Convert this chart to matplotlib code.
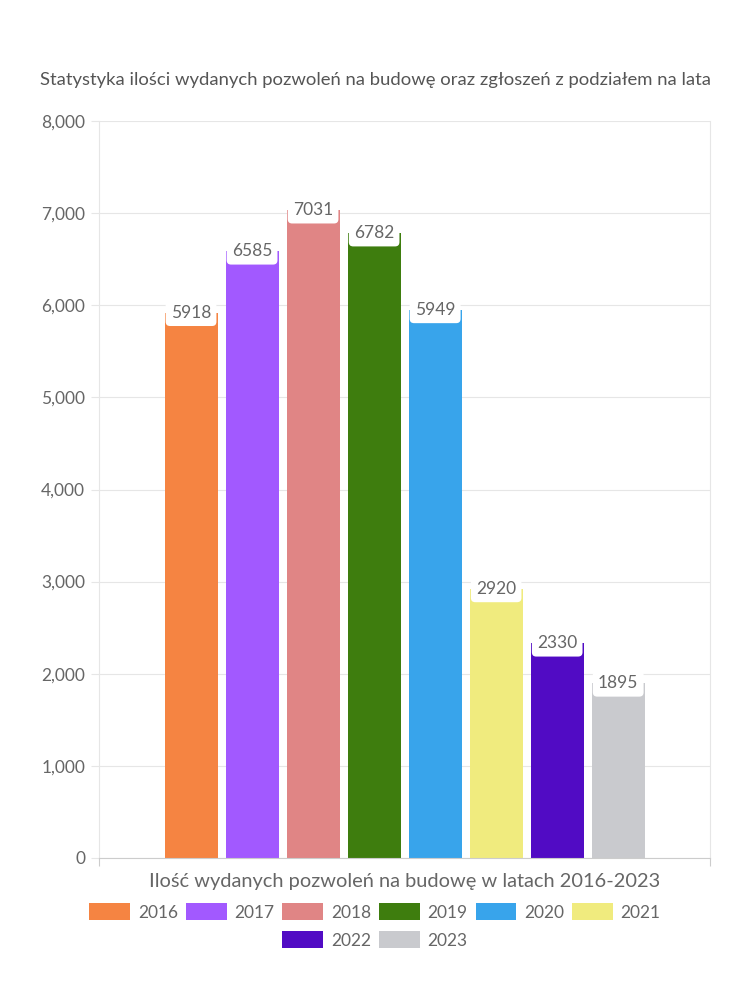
import matplotlib
matplotlib.use("Agg")
import matplotlib.pyplot as plt
from matplotlib.patches import Patch

years = ["2016", "2017", "2018", "2019", "2020", "2021", "2022", "2023"]
values = [5918, 6585, 7031, 6782, 5949, 2920, 2330, 1895]
colors = ["#F58442", "#A259FF", "#E08585", "#3E7D0E", "#38A4EB", "#F0EB7E", "#510BC4", "#C9CACE"]
yticks = [0, 1000, 2000, 3000, 4000, 5000, 6000, 7000, 8000]
title = "Statystyka ilości wydanych pozwoleń na budowę oraz zgłoszeń z podziałem na lata"
xlabel = "Ilość wydanych pozwoleń na budowę w latach 2016-2023"

plt.rcParams['font.family'] = ['Lato', 'DejaVu Sans']
txt = "#666666"

fig = plt.figure(figsize=(7.5, 10), dpi=100)
ax = fig.add_axes([0.132, 0.142, 0.815, 0.737])

n = len(values)
step = 61 / 611
width = 53 / 611
for i, (v, c, y) in enumerate(zip(values, colors, years)):
    x = (i - (n - 1) / 2) * step
    ax.bar(x, v, width=width, color=c, zorder=2)
    ax.text(x, v, str(v), ha="center", va="center", fontsize=12.5, color=txt, zorder=4,
            bbox=dict(boxstyle="round,pad=0.3,rounding_size=0.25", fc="white", ec="none"))

ax.set_xlim(-0.5, 0.5)
ax.set_ylim(0, 8000)
ax.set_yticks(yticks)
ax.set_yticklabels([f"{t:,}" for t in yticks], fontsize=12.5, color=txt)
ax.set_xticks([-0.5, 0.5])
ax.set_xticklabels(["", ""])
ax.tick_params(axis="x", length=6, color="#cccccc")
ax.tick_params(axis="y", length=6, color="#e6e6e6", pad=4)
ax.grid(axis="y", color="#e6e6e6", linewidth=0.8, zorder=0)
for s in ["left", "right", "top"]:
    ax.spines[s].set_color("#e6e6e6")
    ax.spines[s].set_linewidth(0.8)
ax.spines["top"].set_visible(False)
ax.spines["bottom"].set_color("#cccccc")
ax.set_xlabel(xlabel, fontsize=14.4, color=txt, labelpad=1)

fig.text(0.5, 0.920, title, ha="center", va="center", fontsize=13.3, color="#555555")

handles = [Patch(facecolor=c, edgecolor="none") for c in colors]
kw = dict(loc="center", frameon=False, fontsize=12.5, handlelength=2.35, handleheight=1.1,
          columnspacing=0.45, handletextpad=0.45, labelcolor=txt)
fig.legend(handles[:6], years[:6], bbox_to_anchor=(0.5, 0.088), ncol=6, **kw)
fig.legend(handles[6:], years[6:], bbox_to_anchor=(0.5, 0.060), ncol=2, **kw)

fig.savefig("out.png", dpi=100, facecolor="white")
